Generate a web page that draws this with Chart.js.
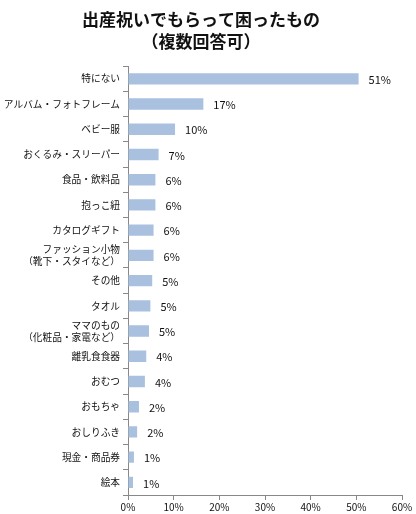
<!DOCTYPE html>
<html>
<head>
<meta charset="utf-8">
<script src="https://cdn.jsdelivr.net/npm/chart.js@4.4.1/dist/chart.umd.min.js"></script>
<style>
  html, body { margin: 0; padding: 0; background: #fff; }
  #wrap { width: 416px; height: 514px; }
</style>
</head>
<body>
<div id="wrap"><canvas id="chart"></canvas></div>
<script>
// ─── Data ─────────────────────────────────────────────────────────────────────

const CATEGORIES = [
  '特にない',
  'アルバム・フォトフレーム',
  'ベビー服',
  'おくるみ・スリーパー',
  '食品・飲料品',
  '抱っこ紐',
  'カタログギフト',
  ['ファッション小物', '（靴下・スタイなど）'],
  'その他',
  'タオル',
  ['ママのもの', '（化粧品・家電など）'],
  '離乳食食器',
  'おむつ',
  'おもちゃ',
  'おしりふき',
  '現金・商品券',
  '絵本'
];

const VALUES = [50.5, 16.5, 10.3, 6.7, 6.0, 6.0, 5.6, 5.6, 5.3, 4.9, 4.6, 4.0, 3.7, 2.4, 2.0, 1.3, 1.1];

const VALUE_LABELS = ['51%', '17%', '10%', '7%', '6%', '6%', '6%', '6%', '5%', '5%', '5%', '4%', '4%', '2%', '2%', '1%', '1%'];

const X_TICKS = [0, 10, 20, 30, 40, 50, 60];

const FONT = '"Noto Sans CJK JP", "Noto Sans", sans-serif';

// ─── Value labels at bar ends ────────────────────────────────────────────────

const valueLabels = {
  id: 'valueLabels',
  afterDatasetsDraw(chart) {
    const ctx = chart.ctx;
    const meta = chart.getDatasetMeta(0);
    ctx.save();
    ctx.font = '11px ' + FONT;
    ctx.fillStyle = '#111';
    ctx.textBaseline = 'middle';
    meta.data.forEach((bar, i) => {
      ctx.fillText(VALUE_LABELS[i], bar.x + 10, bar.y + 1);
    });
    ctx.restore();
  }
};

new Chart(document.getElementById('chart'), {
  type: 'bar',
  data: {
    labels: CATEGORIES,
    datasets: [{
      data: VALUES,
      backgroundColor: '#a9c1df',
      borderWidth: 0,
      categoryPercentage: 0.9,
      barPercentage: 0.5
    }]
  },
  options: {
    indexAxis: 'y',
    responsive: true,
    maintainAspectRatio: false,
    animation: false,
    layout: { padding: { left: 0, right: 14, top: 0, bottom: 0 } },
    plugins: {
      legend: { display: false },
      tooltip: { enabled: false },
      title: {
        display: true,
        text: ['出産祝いでもらって困ったもの', '（複数回答可）'],
        color: '#111',
        font: { family: FONT, size: 17, weight: 'bold', lineHeight: 1.3 },
        padding: { top: 8, bottom: 14 }
      }
    },
    scales: {
      x: {
        min: 0,
        max: 60,
        afterBuildTicks: s => { s.ticks = X_TICKS.map(v => ({ value: v })); },
        border: { color: '#888', width: 1 },
        grid: { drawOnChartArea: false, drawTicks: true, tickLength: 5, color: '#888' },
        ticks: {
          color: '#111',
          padding: 1,
          font: { family: FONT, size: 10 },
          callback: v => v + '%'
        }
      },
      y: {
        afterFit: s => { s.width = 128; },
        border: { color: '#888', width: 1 },
        grid: { offset: true, drawOnChartArea: false, drawTicks: true, tickLength: 5, color: '#888' },
        ticks: {
          color: '#111',
          padding: 3,
          autoSkip: false,
          font: { family: FONT, size: 9.7 }
        }
      }
    }
  },
  plugins: [valueLabels]
});
</script>
</body>
</html>
